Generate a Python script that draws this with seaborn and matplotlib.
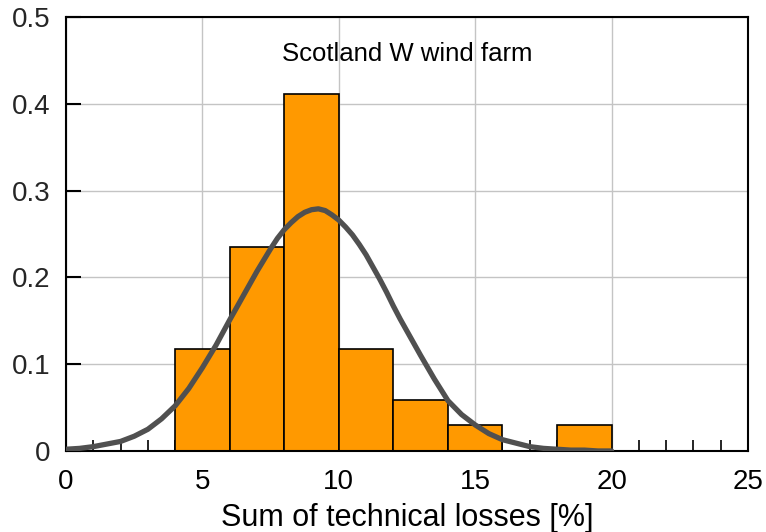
import matplotlib
matplotlib.use("Agg")
import matplotlib.pyplot as plt
import seaborn as sns
from matplotlib.ticker import MultipleLocator

# ---- data ----
bin_edges = [4, 6, 8, 10, 12, 14, 16, 18, 20]
bin_counts = [4, 8, 14, 4, 2, 1, 0, 1]          # 34 samples, plotted as probability
curve_x = [0, 0.5, 1, 1.5, 2, 2.5, 3, 3.5, 4, 4.5, 5, 5.5, 6, 6.25, 6.5, 6.75,
           7, 7.25, 7.5, 7.75, 8, 8.25, 8.5, 8.75, 9, 9.25, 9.5, 9.75, 10, 10.25,
           10.5, 10.75, 11, 11.25, 11.5, 11.75, 12, 12.25, 12.5, 12.75, 13, 13.5,
           14, 14.5, 15, 15.5, 16, 16.5, 17, 17.5, 18, 18.5, 19, 19.5, 20]
curve_y = [0.002, 0.003, 0.005, 0.008, 0.011, 0.017, 0.025, 0.037, 0.052, 0.072,
           0.096, 0.122, 0.151, 0.165, 0.179, 0.193, 0.207, 0.220, 0.233, 0.245,
           0.255, 0.263, 0.270, 0.275, 0.278, 0.279, 0.277, 0.272, 0.266, 0.258,
           0.249, 0.238, 0.226, 0.212, 0.198, 0.183, 0.167, 0.152, 0.138, 0.124,
           0.110, 0.083, 0.058, 0.042, 0.030, 0.020, 0.013, 0.009, 0.005, 0.003,
           0.002, 0.001, 0.001, 0.0, 0.0]
title_text = "Scotland W wind farm"
x_label = "Sum of technical losses [%]"

sns.set_theme(style="white")
plt.rcParams['font.family'] = ['Liberation Sans', 'DejaVu Sans']

fig = plt.figure(figsize=(7.66, 5.32), dpi=100)
ax = fig.add_axes([0.0862, 0.1523, 0.8903, 0.8157])

centers = [(a + b) / 2 for a, b in zip(bin_edges[:-1], bin_edges[1:])]
sns.histplot(x=centers, weights=bin_counts, bins=bin_edges, stat="probability",
             color="#FF9900", alpha=1.0, edgecolor="black", linewidth=1.2, ax=ax,
             zorder=2)
sns.lineplot(x=curve_x, y=curve_y, color="#505050", linewidth=3.8, ax=ax, zorder=3)
ax.lines[-1].set_solid_capstyle("round")
ax.lines[-1].set_solid_joinstyle("round")

ax.set_xlim(0, 25)
ax.set_ylim(0, 0.5)
ax.xaxis.set_major_locator(MultipleLocator(5))
ax.xaxis.set_minor_locator(MultipleLocator(1))
ax.set_yticks([0, 0.1, 0.2, 0.3, 0.4, 0.5])
ax.set_yticklabels(["0", "0.1", "0.2", "0.3", "0.4", "0.5"])

ax.grid(True, which="major", color="#c4c4c4", linewidth=1.0, zorder=0)
ax.set_axisbelow(True)

ax.tick_params(axis="x", which="major", direction="in", length=0, pad=13,
               labelsize=20, colors="black")
ax.tick_params(axis="x", which="minor", direction="in", length=8, width=1.2,
               color="black", bottom=True)
ax.tick_params(axis="y", which="major", direction="in", length=11, width=1.5,
               pad=11, labelsize=20, color="black", left=True)

for s in ax.spines.values():
    s.set_color("black")
    s.set_linewidth(1.5)

ax.set_xlabel(x_label, fontsize=22, labelpad=6, color="black")
ax.set_ylabel("")
ax.text(12.5, 0.457, title_text, ha="center", va="center", fontsize=18.5, color="black")

fig.savefig("out.png", dpi=100)
